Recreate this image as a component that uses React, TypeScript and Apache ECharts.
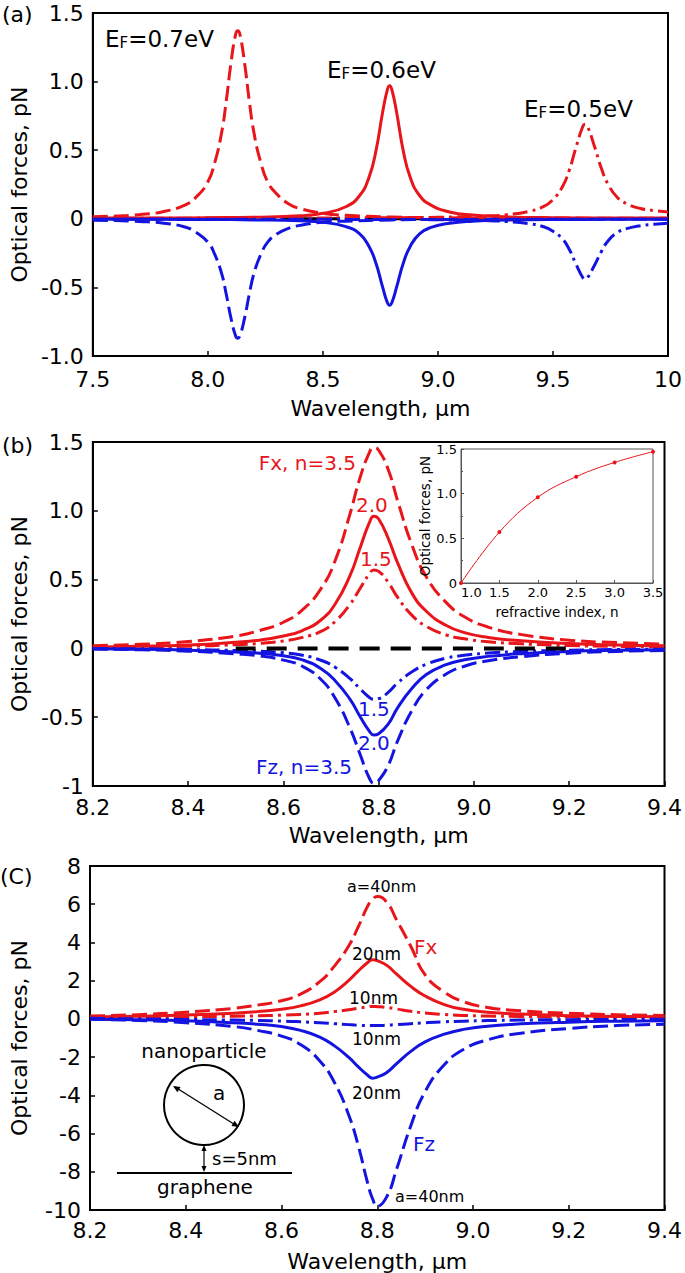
import React, { useEffect, useRef } from 'react';
import * as echarts from 'echarts';

const RED = '#e8161b';
const BLUE = '#1414e0';
const FONT = 'DejaVu Sans';

// ---------- panel (a): Fermi energy ----------
const aX07 = [7.5, 7.6, 7.7, 7.8, 7.9, 7.95, 8.0, 8.03, 8.06, 8.08, 8.1, 8.12, 8.13, 8.14, 8.16, 8.18, 8.2, 8.23, 8.26, 8.3, 8.35, 8.4, 8.5, 8.6, 8.8, 9.0, 9.3, 9.6, 10.0];
const aFx07 = [0.015, 0.02, 0.03, 0.05, 0.10, 0.16, 0.27, 0.41, 0.63, 0.86, 1.13, 1.34, 1.37, 1.34, 1.13, 0.86, 0.63, 0.41, 0.27, 0.18, 0.11, 0.075, 0.04, 0.026, 0.013, 0.008, 0.006, 0.005, 0.004];
const aFz07 = [-0.01, -0.013, -0.02, -0.03, -0.06, -0.10, -0.17, -0.26, -0.40, -0.55, -0.72, -0.85, -0.87, -0.85, -0.72, -0.55, -0.40, -0.26, -0.17, -0.11, -0.07, -0.048, -0.025, -0.017, -0.008, -0.005, -0.004, -0.003, -0.003];

const aX06 = [7.5, 7.8, 8.0, 8.2, 8.4, 8.5, 8.6, 8.66, 8.7, 8.73, 8.76, 8.78, 8.79, 8.8, 8.82, 8.85, 8.88, 8.92, 8.97, 9.05, 9.15, 9.3, 9.5, 9.75, 10.0];
const aFx06 = [0.005, 0.006, 0.008, 0.012, 0.022, 0.04, 0.088, 0.17, 0.30, 0.49, 0.78, 0.94, 0.97, 0.94, 0.78, 0.49, 0.30, 0.17, 0.10, 0.05, 0.027, 0.014, 0.008, 0.006, 0.005];
const aFz06 = [-0.003, -0.004, -0.005, -0.008, -0.015, -0.026, -0.057, -0.11, -0.20, -0.32, -0.50, -0.61, -0.63, -0.61, -0.50, -0.32, -0.20, -0.11, -0.063, -0.032, -0.017, -0.009, -0.005, -0.004, -0.003];

const aX05 = [7.5, 8.0, 8.5, 8.8, 9.0, 9.2, 9.3, 9.4, 9.46, 9.5, 9.54, 9.57, 9.6, 9.63, 9.64, 9.65, 9.68, 9.71, 9.74, 9.78, 9.82, 9.88, 9.94, 10.0];
const aFx05 = [0.004, 0.005, 0.006, 0.008, 0.011, 0.02, 0.03, 0.056, 0.09, 0.14, 0.23, 0.35, 0.52, 0.675, 0.69, 0.675, 0.53, 0.37, 0.25, 0.155, 0.11, 0.075, 0.06, 0.05];
const aFz05 = [-0.003, -0.003, -0.004, -0.005, -0.007, -0.013, -0.02, -0.036, -0.058, -0.09, -0.145, -0.22, -0.33, -0.43, -0.44, -0.43, -0.34, -0.24, -0.16, -0.10, -0.072, -0.05, -0.04, -0.033];

const aZeroX = [7.5, 10.0];
const aZeroY = [0, 0];

// ---------- panel (b): refractive index ----------
const bX = [8.2, 8.3, 8.4, 8.5, 8.55, 8.6, 8.64, 8.68, 8.71, 8.74, 8.76, 8.78, 8.79, 8.8, 8.82, 8.84, 8.87, 8.9, 8.94, 8.98, 9.03, 9.1, 9.2, 9.3, 9.4];
const bFx35 = [0.02, 0.03, 0.05, 0.09, 0.13, 0.19, 0.28, 0.44, 0.65, 0.98, 1.23, 1.42, 1.46, 1.44, 1.30, 1.07, 0.75, 0.52, 0.34, 0.23, 0.155, 0.10, 0.06, 0.042, 0.032];
const bFx20 = [0.01, 0.015, 0.025, 0.045, 0.06, 0.09, 0.13, 0.21, 0.33, 0.53, 0.72, 0.91, 0.96, 0.94, 0.80, 0.62, 0.40, 0.27, 0.17, 0.115, 0.08, 0.055, 0.035, 0.025, 0.02];
const bFx15 = [0.006, 0.009, 0.015, 0.027, 0.036, 0.054, 0.08, 0.125, 0.20, 0.32, 0.43, 0.54, 0.57, 0.56, 0.48, 0.37, 0.24, 0.16, 0.10, 0.07, 0.048, 0.033, 0.021, 0.015, 0.012];
const bFz35 = [-0.005, -0.01, -0.02, -0.04, -0.055, -0.085, -0.13, -0.23, -0.37, -0.58, -0.76, -0.94, -0.98, -0.96, -0.85, -0.67, -0.45, -0.30, -0.19, -0.13, -0.09, -0.06, -0.035, -0.022, -0.015];
const bFz20 = [-0.003, -0.006, -0.013, -0.026, -0.035, -0.054, -0.083, -0.15, -0.24, -0.37, -0.49, -0.60, -0.63, -0.62, -0.55, -0.43, -0.29, -0.19, -0.12, -0.083, -0.058, -0.038, -0.022, -0.014, -0.01];
const bFz15 = [-0.002, -0.004, -0.008, -0.015, -0.021, -0.032, -0.05, -0.088, -0.14, -0.22, -0.29, -0.355, -0.37, -0.365, -0.32, -0.25, -0.17, -0.115, -0.072, -0.05, -0.034, -0.022, -0.013, -0.008, -0.006];
const bZeroX = [8.5, 9.2];
const bZeroY = [0, 0];

// inset of (b)
const inN = [1.0, 1.5, 2.0, 2.5, 3.0, 3.5];
const inF = [0, 0.57, 0.96, 1.19, 1.35, 1.47];

// ---------- panel (c): particle size ----------
const cX = [8.2, 8.3, 8.4, 8.5, 8.55, 8.6, 8.64, 8.68, 8.71, 8.74, 8.76, 8.78, 8.79, 8.8, 8.82, 8.84, 8.87, 8.9, 8.94, 8.98, 9.03, 9.1, 9.2, 9.3, 9.4];
const cFx40 = [0.15, 0.22, 0.35, 0.55, 0.72, 0.95, 1.3, 1.95, 2.75, 3.8, 4.8, 5.9, 6.25, 6.4, 6.1, 5.2, 3.8, 2.3, 1.4, 0.9, 0.6, 0.42, 0.3, 0.22, 0.18];
const cFx20 = [0.1, 0.14, 0.2, 0.3, 0.38, 0.5, 0.68, 1.0, 1.4, 2.0, 2.5, 2.95, 3.1, 3.05, 2.8, 2.35, 1.7, 1.2, 0.75, 0.5, 0.35, 0.25, 0.17, 0.13, 0.11];
const cFx10 = [0.08, 0.09, 0.11, 0.14, 0.16, 0.19, 0.23, 0.3, 0.38, 0.48, 0.56, 0.63, 0.65, 0.64, 0.6, 0.52, 0.4, 0.31, 0.23, 0.18, 0.15, 0.13, 0.11, 0.1, 0.09];
const cFz40 = [-0.02, -0.08, -0.2, -0.4, -0.6, -0.9, -1.35, -2.2, -3.3, -5.0, -6.6, -8.6, -9.4, -9.8, -9.3, -7.9, -5.6, -3.8, -2.4, -1.6, -1.1, -0.75, -0.5, -0.35, -0.28];
const cFz20 = [-0.02, -0.05, -0.1, -0.2, -0.28, -0.4, -0.6, -0.95, -1.4, -2.0, -2.5, -2.95, -3.1, -3.05, -2.8, -2.35, -1.7, -1.2, -0.8, -0.55, -0.38, -0.26, -0.17, -0.12, -0.1];
const cFz10 = [0.03, 0.0, -0.03, -0.06, -0.08, -0.11, -0.15, -0.2, -0.25, -0.3, -0.33, -0.35, -0.35, -0.35, -0.33, -0.3, -0.25, -0.2, -0.15, -0.12, -0.09, -0.06, -0.04, -0.03, -0.02];

const DASH = [15, 6];
const DASHDOT = [15, 5, 3, 5];

const zip = (xs: number[], ys: number[]) => xs.map((x, i) => [x, ys[i]]);

function line(idx: number, xs: number[], ys: number[], color: string, type: any, width = 3, z = 2) {
  return {
    type: 'line',
    xAxisIndex: idx,
    yAxisIndex: idx,
    data: zip(xs, ys),
    showSymbol: false,
    symbol: 'none',
    smooth: 0.5,
    z,
    lineStyle: { color, width, type, join: 'round', cap: 'butt' },
    silent: true,
  };
}

const txt = { fontFamily: FONT, color: '#000' };

function mainX(grid: number, min: number, max: number, interval: number, fmt: (v: number) => string, margin: number, gap: number) {
  return {
    type: 'value', gridIndex: grid, min, max, interval,
    name: 'Wavelength, µm', nameLocation: 'middle', nameGap: gap,
    nameTextStyle: { ...txt, fontSize: 22 },
    axisLine: { show: true, onZero: false, lineStyle: { color: '#000', width: 2 } },
    axisTick: { show: true, inside: true, length: 5, lineStyle: { color: '#000', width: 1.5 } },
    axisLabel: { ...txt, fontSize: 22, margin, formatter: fmt, showMaxLabel: true, showMinLabel: true },
    splitLine: { show: false },
  };
}

function mainY(grid: number, min: number, max: number, interval: number, fmt: (v: number) => string) {
  return {
    type: 'value', gridIndex: grid, min, max, interval,
    name: 'Optical forces, pN', nameLocation: 'middle', nameGap: 60,
    nameTextStyle: { ...txt, fontSize: 22 },
    axisLine: { show: true, onZero: false, lineStyle: { color: '#000', width: 2 } },
    axisTick: { show: true, inside: true, length: 5, lineStyle: { color: '#000', width: 1.5 } },
    axisLabel: { ...txt, fontSize: 22, margin: 9, formatter: fmt },
    splitLine: { show: false },
  };
}

function label(text: string, x: number, y: number, size: number, color = '#000', align = 'left') {
  return {
    type: 'text', x, y, z: 100,
    style: { text, fill: color, fontSize: size, fontFamily: FONT, align, verticalAlign: 'middle' },
  };
}

function efLabel(val: string, x: number, y: number) {
  const base = { fontFamily: FONT, fill: '#000', color: '#000', verticalAlign: 'bottom' };
  return {
    type: 'text', x, y, z: 100,
    style: {
      text: `{e|E}{f|F}{t|=${val}eV}`,
      verticalAlign: 'middle',
      rich: {
        e: { ...base, fontSize: 23, lineHeight: 26 },
        f: { ...base, fontSize: 15, lineHeight: 22 },
        t: { ...base, fontSize: 23, lineHeight: 26 },
      },
    },
  };
}

const fmt1 = (v: number) => (Math.abs(v) < 1e-9 ? '0' : v.toFixed(1));
const fmtAX = (v: number) => (Math.abs(v - 10) < 1e-9 ? '10' : v.toFixed(1));
const fmtBY = (v: number) => (Math.abs(v) < 1e-9 ? '0' : Math.abs(v + 1) < 1e-9 ? '-1' : v.toFixed(1));
const fmtX = (v: number) => v.toFixed(1);
const fmtInt = (v: number) => String(Math.round(v));

function buildOption() {
  const insetAxisLine = { show: true, onZero: false, lineStyle: { color: '#555', width: 1 } };
  const insetTick = { show: true, inside: true, length: 3, lineStyle: { color: '#555', width: 1 } };
  return {
    animation: false,
    backgroundColor: '#fff',
    grid: [
      { left: 88, top: 13, width: 580, height: 343, show: true, borderColor: '#000', borderWidth: 2 },
      { left: 87, top: 442, width: 580, height: 344, show: true, borderColor: '#000', borderWidth: 2 },
      { left: 86, top: 866, width: 580, height: 345, show: true, borderColor: '#000', borderWidth: 2 },
      { left: 461, top: 449, width: 192, height: 134, show: true, borderColor: '#555', borderWidth: 1, backgroundColor: '#fff', z: 5 },
    ],
    xAxis: [
      mainX(0, 7.5, 10, 0.5, fmtAX, 12, 41),
      mainX(1, 8.2, 9.4, 0.2, fmtX, 10, 38),
      mainX(2, 8.2, 9.4, 0.2, fmtX, 9, 40),
      {
        type: 'value', gridIndex: 3, min: 1, max: 3.5, interval: 0.5, z: 6,
        name: 'refractive index, n', nameLocation: 'middle', nameGap: 22,
        nameTextStyle: { ...txt, fontSize: 13.5 },
        axisLine: insetAxisLine, axisTick: insetTick,
        axisLabel: { ...txt, fontSize: 13, margin: 3, formatter: fmtX, alignMinLabel: 'left' },
        splitLine: { show: false },
      },
    ],
    yAxis: [
      mainY(0, -1, 1.5, 0.5, fmt1),
      mainY(1, -1, 1.5, 0.5, fmtBY),
      mainY(2, -10, 8, 2, fmtInt),
      {
        type: 'value', gridIndex: 3, min: 0, max: 1.5, interval: 0.5, z: 6,
        name: 'Optical forces, pN', nameLocation: 'middle', nameGap: 29,
        nameTextStyle: { ...txt, fontSize: 13.5 },
        axisLine: insetAxisLine, axisTick: insetTick,
        minorTick: { show: true, splitNumber: 2, length: 2, lineStyle: { color: '#555' } },
        axisLabel: { ...txt, fontSize: 13, margin: 4, formatter: fmt1 },
        splitLine: { show: false },
      },
    ],
    series: [
      // (a)
      line(0, aZeroX, aZeroY, '#000', DASH, 3, 1),
      line(0, aX07, aFx07, RED, DASH, 3, 2),
      line(0, aX06, aFx06, RED, 'solid', 3, 2),
      line(0, aX05, aFx05, RED, DASHDOT, 3, 2),
      line(0, aX07, aFz07, BLUE, DASH, 3, 3),
      line(0, aX06, aFz06, BLUE, 'solid', 3, 3),
      line(0, aX05, aFz05, BLUE, DASHDOT, 3, 3),
      // (b)
      line(1, bX, bFx35, RED, DASH, 3, 2),
      line(1, bX, bFx20, RED, 'solid', 3, 2),
      line(1, bX, bFx15, RED, DASHDOT, 3, 2),
      line(1, bX, bFz35, BLUE, DASH, 3, 3),
      line(1, bX, bFz20, BLUE, 'solid', 3, 3),
      line(1, bX, bFz15, BLUE, DASHDOT, 3, 3),
      line(1, bZeroX, bZeroY, '#000', [20, 11], 4, 4),
      // (c)
      line(2, cX, cFx40, RED, DASH, 3, 2),
      line(2, cX, cFx20, RED, 'solid', 3, 2),
      line(2, cX, cFx10, RED, DASHDOT, 3, 2),
      line(2, cX, cFz40, BLUE, DASH, 3, 3),
      line(2, cX, cFz20, BLUE, 'solid', 3, 3),
      line(2, cX, cFz10, BLUE, DASHDOT, 3, 3),
      // inset
      {
        type: 'line', xAxisIndex: 3, yAxisIndex: 3, data: zip(inN, inF), z: 10,
        smooth: 0.4, symbol: 'circle', symbolSize: 4, showSymbol: true,
        lineStyle: { color: RED, width: 1 }, itemStyle: { color: RED }, silent: true,
      },
    ],
    graphic: [
      label('(a)', 2, 14, 22),
      label('(b)', 2, 445, 22),
      label('(C)', 0, 876, 22),
      efLabel('0.7', 105, 37),
      efLabel('0.6', 327, 68),
      efLabel('0.5', 524, 107),
      label('Fx, n=3.5', 356, 463, 20, RED, 'right'),
      label('2.0', 356, 505, 20, RED),
      label('1.5', 360, 559, 20, RED),
      label('1.5', 358, 709, 20, BLUE),
      label('2.0', 358, 743, 20, BLUE),
      label('Fz, n=3.5', 352, 767, 20, BLUE, 'right'),
      label('a=40nm', 347, 886, 16),
      label('Fx', 414, 947, 20, RED),
      label('20nm', 352, 954, 17),
      label('10nm', 349, 998, 17),
      label('10nm', 352, 1039, 17),
      label('20nm', 352, 1093, 17),
      label('Fz', 413, 1144, 20, BLUE),
      label('a=40nm', 395, 1196, 16),
      label('nanoparticle', 204, 1051, 20, '#000', 'center'),
      label('a', 213, 1093, 20),
      label('s=5nm', 212, 1158, 18),
      label('graphene', 205, 1187, 20, '#000', 'center'),
      { type: 'circle', z: 100, shape: { cx: 204, cy: 1105, r: 40 }, style: { fill: 'none', stroke: '#000', lineWidth: 2 } },
      { type: 'line', z: 100, shape: { x1: 175, y1: 1087, x2: 237, y2: 1126 }, style: { stroke: '#000', lineWidth: 1.3 } },
      { type: 'polygon', z: 100, shape: { points: [[173, 1086], [177.4, 1092.2], [180.5, 1087.1]] }, style: { fill: '#000' } },
      { type: 'polygon', z: 100, shape: { points: [[239, 1127], [231.5, 1125.9], [234.6, 1120.8]] }, style: { fill: '#000' } },
      { type: 'line', z: 100, shape: { x1: 204, y1: 1147, x2: 204, y2: 1170 }, style: { stroke: '#000', lineWidth: 1.2 } },
      { type: 'polygon', z: 100, shape: { points: [[204, 1145], [201.5, 1151], [206.5, 1151]] }, style: { fill: '#000' } },
      { type: 'polygon', z: 100, shape: { points: [[204, 1172], [201.5, 1166], [206.5, 1166]] }, style: { fill: '#000' } },
      { type: 'line', z: 100, shape: { x1: 117, y1: 1173, x2: 292, y2: 1173 }, style: { stroke: '#000', lineWidth: 2 } },
    ],
  };
}

export default function App() {
  const ref = useRef<HTMLDivElement>(null);
  useEffect(() => {
    if (!ref.current) return;
    const chart = echarts.init(ref.current, null, { renderer: 'svg' });
    chart.setOption(buildOption() as any);
    return () => chart.dispose();
  }, []);
  return (
    <div
      ref={ref}
      style={{ position: 'absolute', left: 0, top: 0, width: 685, height: 1273, background: '#fff' }}
    />
  );
}
